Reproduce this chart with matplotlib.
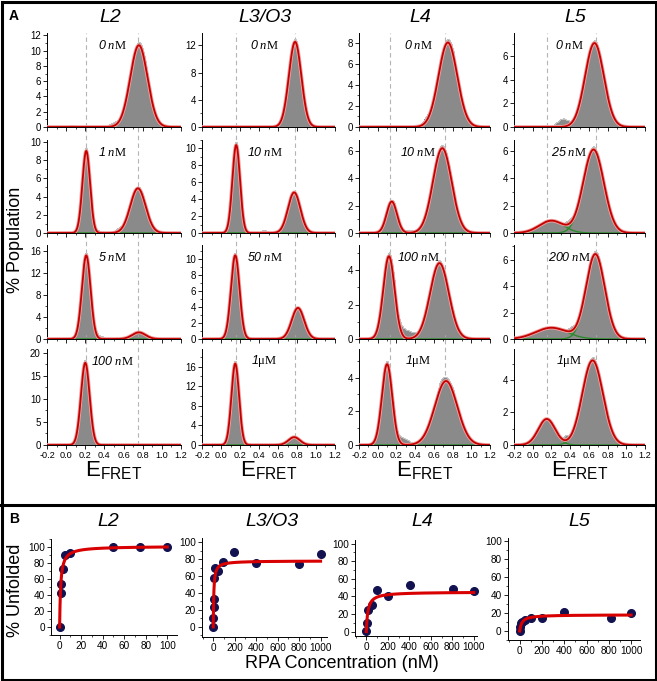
import numpy as np
import matplotlib
matplotlib.use("Agg")
import matplotlib.pyplot as plt
from matplotlib.lines import Line2D
from matplotlib.patches import Rectangle
from matplotlib.ticker import MultipleLocator
import matplotlib.patheffects as pe

plt.rcParams['font.family'] = ['Liberation Sans', 'DejaVu Sans']
plt.rcParams['mathtext.fontset'] = 'custom'
plt.rcParams['mathtext.rm'] = 'Liberation Sans:italic'
plt.rcParams['mathtext.it'] = 'Liberation Serif:italic'
plt.rcParams['mathtext.sf'] = 'Liberation Serif'

W, H = 657, 681

# ---------------- Panel A data: Gaussian fit components (center, sigma, height) ----------------
constructs = ['L2', 'L3/O3', 'L4', 'L5']
conc_L2 = ['0 nM', '1 nM', '5 nM', '100 nM']
conc_L3 = ['0 nM', '10 nM', '50 nM', '1μM']
conc_L4 = ['0 nM', '10 nM', '100 nM', '1μM']
conc_L5 = ['0 nM', '25 nM', '200 nM', '1μM']

peaks_L2 = [[(0.76, 0.090, 10.7)],
            [(0.21, 0.040, 9.0), (0.75, 0.080, 4.9)],
            [(0.21, 0.045, 15.2), (0.76, 0.070, 1.2)],
            [(0.20, 0.045, 17.8)]]
peaks_L3 = [[(0.78, 0.065, 12.5)],
            [(0.16, 0.040, 10.4), (0.77, 0.065, 4.8)],
            [(0.15, 0.045, 10.5), (0.81, 0.065, 3.9)],
            [(0.15, 0.040, 16.6), (0.77, 0.060, 1.6)]]
peaks_L4 = [[(0.75, 0.100, 8.0)],
            [(0.15, 0.055, 2.3), (0.69, 0.100, 6.2)],
            [(0.12, 0.060, 4.8), (0.66, 0.100, 4.4)],
            [(0.10, 0.055, 4.8), (0.73, 0.120, 3.8)]]
peaks_L5 = [[(0.66, 0.100, 7.1)],
            [(0.20, 0.130, 0.9), (0.65, 0.110, 6.1)],
            [(0.20, 0.170, 0.85), (0.67, 0.100, 6.4)],
            [(0.15, 0.090, 1.6), (0.64, 0.110, 5.2)]]
# histogram-only features (shoulders not captured by the fit)
extra_L2 = [[(0.06, 0.03, 0.3), (0.50, 0.05, 0.5)],
            [(0.36, 0.04, 0.25), (0.55, 0.04, 0.4)],
            [(0.35, 0.05, 0.5)],
            []]
extra_L3 = [[(0.15, 0.02, 0.15), (0.55, 0.04, 0.3)],
            [(0.45, 0.03, 0.4)],
            [(0.30, 0.03, 0.2)],
            [(0.30, 0.03, 0.3)]]
extra_L4 = [[(0.52, 0.05, 0.4)],
            [(0.35, 0.06, 0.2)],
            [(0.30, 0.08, 0.5)],
            [(0.27, 0.06, 0.4), (0.65, 0.05, 0.3)]]
extra_L5 = [[(0.32, 0.06, 0.7)],
            [(0.40, 0.04, 0.3)],
            [(0.42, 0.04, 0.3)],
            [(0.36, 0.03, 0.3)]]
ylims_A = [[12.3, 13.8, 8.9, 7.95],
           [10.2, 11.0, 6.8, 6.8],
           [17.1, 11.8, 5.45, 7.1],
           [20.8, 19.6, 5.7, 5.9]]
yticks_step = [[2, 4, 2, 2],
               [2, 2, 2, 2],
               [4, 2, 2, 2],
               [5, 4, 2, 2]]
dashed_pos = [(0.21, 0.75), (0.16, 0.78), (0.13, 0.72), (0.15, 0.68)]
label_xpos = [0.49, 0.47, 0.45, 0.42]

all_peaks = [peaks_L2, peaks_L3, peaks_L4, peaks_L5]
all_extra = [extra_L2, extra_L3, extra_L4, extra_L5]
all_conc = [conc_L2, conc_L3, conc_L4, conc_L5]

# ---------------- Panel B data ----------------
b_x_L2 = [0.5, 1.0, 1.5, 3, 5, 10, 50, 75, 100]
b_y_L2 = [0, 42, 54, 72, 90, 92, 100, 100, 100]
b_x_L3 = [0, 0, 5, 5, 5, 18, 46, 93, 196, 398, 798, 1000]
b_y_L3 = [0, 11, 24, 33, 58, 70, 66, 77, 89, 75, 74, 86]
b_x_L4 = [0, 6, 12, 53, 100, 200, 404, 807, 1000]
b_y_L4 = [1, 10, 25, 30, 47, 40, 53, 48, 46]
b_x_L5 = [0, 6, 12, 24, 50, 100, 200, 400, 820, 1000]
b_y_L5 = [0, 4, 9, 10, 12, 14, 14, 21, 14, 20]
fit_bmax = [101, 78, 45, 18]
fit_kd = [1.0, 5.0, 15.0, 20.0]
b_xmax = [100, 1000, 1000, 1000]

fig = plt.figure(figsize=(W / 100, H / 100), dpi=100)


def box(x0, y0, x1, y1):
    return [x0 / W, 1 - y1 / H, (x1 - x0) / W, (y1 - y0) / H]


def gauss(x, c, s, a):
    return a * np.exp(-0.5 * ((x - c) / s) ** 2)


col_x = [(47, 181), (202, 335), (359, 490), (514, 645)]
row_y = [(33, 127), (140, 233), (245, 339), (349, 445)]

xs = np.linspace(-0.2, 1.2, 600)
centers = np.arange(-0.195, 1.2, 0.01)
xtl = ['-0.2', '0.0', '0.2', '0.4', '0.6', '0.8', '1.0', '1.2']

for c in range(4):
    for r in range(4):
        ax = fig.add_axes(box(col_x[c][0], row_y[r][0], col_x[c][1], row_y[r][1]))
        comps = all_peaks[c][r]
        hist = np.zeros_like(centers)
        for (cc, s, a) in comps:
            hist += gauss(centers, cc, s, a * 1.04)
        for (cc, s, a) in all_extra[c][r]:
            hist += gauss(centers, cc, s, a)
        ax.bar(centers, hist, width=0.0102, color='#8a8a8a', linewidth=0, zorder=1)
        ax.step(centers, hist, where='mid', color='#c4c4c4', lw=0.7, zorder=1.5)
        total = np.zeros_like(xs)
        for (cc, s, a) in comps:
            g = gauss(xs, cc, s, a)
            total += g
            if r > 0:
                ax.plot(xs, g, color='#2a8a2a', lw=1.0, zorder=2)
        ax.plot(xs, total, color='#c40000', lw=1.3, zorder=3,
                path_effects=[pe.Stroke(linewidth=2.6, foreground='#f0a0a0'), pe.Normal()])
        ymax_line = 1.0 if r == 0 else 1.15
        for dp in dashed_pos[c]:
            ax.axvline(dp, ymin=0, ymax=ymax_line, color='#b4b4b4', lw=0.8,
                       dashes=(4, 3), zorder=0.5, clip_on=False)
        ax.set_xlim(-0.2, 1.2)
        ax.set_ylim(0, ylims_A[r][c])
        ax.set_xticks(np.round(np.arange(-0.2, 1.21, 0.2), 1))
        ax.xaxis.set_minor_locator(MultipleLocator(0.1))
        st = yticks_step[r][c]
        ax.yaxis.set_major_locator(MultipleLocator(st))
        ax.yaxis.set_minor_locator(MultipleLocator(st / 2))
        for sp in ['top', 'right']:
            ax.spines[sp].set_visible(False)
        for sp in ['left', 'bottom']:
            ax.spines[sp].set_linewidth(0.7)
        ax.tick_params(which='major', length=3, width=0.6, labelsize=7, pad=1.5)
        ax.tick_params(axis='x', which='major', labelsize=6.6)
        ax.tick_params(which='minor', length=1.5, width=0.5)
        ax.set_facecolor('none')
        if r < 3:
            ax.tick_params(axis='x', labelbottom=False)
        else:
            ax.set_xticklabels(xtl)
        lab = all_conc[c][r]
        if lab.endswith('nM'):
            num = lab[:-3]
            txt = '$' + num + r'\ \mathit{n}\mathsf{M}$'
        else:
            txt = r'$1\mathsf{\mu M}$'
        ax.text(label_xpos[c], 0.87, txt, transform=ax.transAxes, ha='center',
                va='center', fontsize=9, zorder=5)
    # column title and x label
    xc = (col_x[c][0] + col_x[c][1]) / 2 / W
    fig.text(xc - 4 / W, 1 - 17 / H, constructs[c], ha='center', va='center',
             fontsize=14, style='italic')
    fig.text(xc, 1 - 470 / H, r'E$_{\mathregular{FRET}}$', ha='center', va='center',
             fontsize=16)

fig.text(16 / W, 1 - 240 / H, '% Population', rotation=90, ha='center', va='center',
         fontsize=13)
fig.text(14 / W, 1 - 16 / H, 'A', fontsize=10, fontweight='bold', ha='center', va='center')

# ---------------- Panel B ----------------
b_boxes = [(51, 539, 177, 635), (202, 538, 327, 637), (355, 540, 477, 636), (508, 538, 640, 640)]
b_xlims = [(-8, 109), (-105, 1060), (-105, 1030), (-105, 1080)]
b_ylims = [(-10, 110), (-12, 105), (-5, 104), (-10, 103)]
b_data = [(b_x_L2, b_y_L2), (b_x_L3, b_y_L3), (b_x_L4, b_y_L4), (b_x_L5, b_y_L5)]
b_title_x = [108, 272, 422, 579]

for i in range(4):
    ax = fig.add_axes(box(*b_boxes[i]))
    bx, by = b_data[i]
    ax.plot(bx, by, 'o', color='#121250', ms=5.5, zorder=2, clip_on=False)
    xf = np.linspace(0, b_xmax[i], 800)
    ax.plot(xf, fit_bmax[i] * xf / (fit_kd[i] + xf), color='#d80000', lw=2.2, zorder=3)
    ax.set_xlim(*b_xlims[i])
    ax.set_ylim(*b_ylims[i])
    ax.yaxis.set_major_locator(MultipleLocator(20))
    ax.yaxis.set_minor_locator(MultipleLocator(10))
    if b_xmax[i] == 100:
        ax.xaxis.set_major_locator(MultipleLocator(20))
        ax.xaxis.set_minor_locator(MultipleLocator(10))
    else:
        ax.xaxis.set_major_locator(MultipleLocator(200))
        ax.xaxis.set_minor_locator(MultipleLocator(100))
    for sp in ['top', 'right']:
        ax.spines[sp].set_visible(False)
    for sp in ['left', 'bottom']:
        ax.spines[sp].set_linewidth(0.7)
    ax.tick_params(which='major', length=3, width=0.6, labelsize=7.2, pad=1.5)
    ax.tick_params(which='minor', length=1.5, width=0.5)
    ax.set_facecolor('none')
    fig.text(b_title_x[i] / W, 1 - 522 / H, constructs[i], ha='center', va='center',
             fontsize=14, style='italic')

fig.text(16 / W, 1 - 590 / H, '% Unfolded', rotation=90, ha='center', va='center',
         fontsize=13)
fig.text(342 / W, 1 - 663 / H, 'RPA Concentration (nM)', ha='center', va='center',
         fontsize=13)
fig.text(14 / W, 1 - 519 / H, 'B', fontsize=10, fontweight='bold', ha='center', va='center')

# borders
fig.add_artist(Rectangle((1.5 / W, 1.5 / H), 1 - 3 / W, 1 - 3 / H, transform=fig.transFigure,
                         fill=False, edgecolor='black', lw=2.2))
fig.add_artist(Line2D([0, 1], [1 - 505 / H, 1 - 505 / H], transform=fig.transFigure,
                      color='black', lw=2.2))

fig.savefig('out.png', dpi=100)
